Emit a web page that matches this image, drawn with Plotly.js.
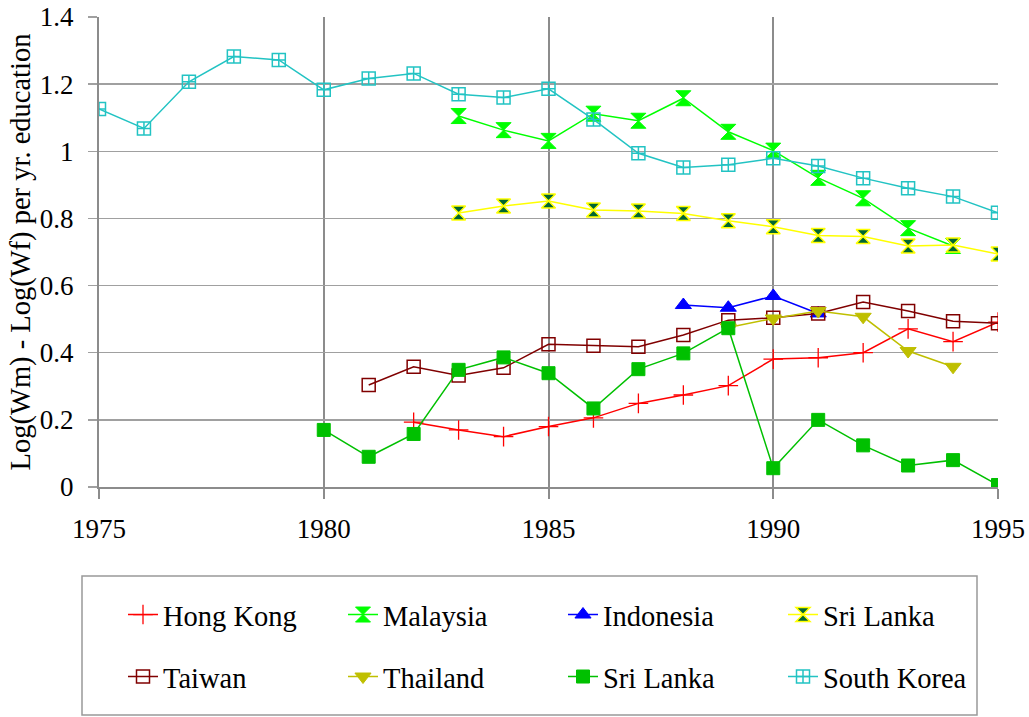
<!DOCTYPE html>
<html>
<head>
<meta charset="utf-8">
<script src="https://cdn.plot.ly/plotly-3.0.1.min.js"></script>
<style>html,body{margin:0;padding:0;background:#fff;}#chart{width:1029px;height:717px;}</style>
</head>
<body>
<div id="chart"></div>
<script>
// Data
const hongKongYears = [1982,1983,1984,1985,1986,1987,1988,1989,1990,1991,1992,1993,1994,1995];
const hongKongVals  = [0.193,0.170,0.150,0.180,0.206,0.249,0.274,0.302,0.381,0.385,0.400,0.471,0.433,0.491];

const malaysiaYears = [1983,1984,1985,1986,1987,1988,1989,1990,1991,1992,1993,1994];
const malaysiaVals  = [1.105,1.063,1.031,1.112,1.091,1.158,1.058,1.002,0.921,0.860,0.771,0.718];

const indonesiaYears = [1988,1989,1990,1991];
const indonesiaVals  = [0.542,0.534,0.569,0.517];

const sriLankaAYears = [1983,1984,1985,1986,1987,1988,1989,1990,1991,1992,1993,1994,1995];
const sriLankaAVals  = [0.816,0.837,0.852,0.825,0.822,0.815,0.793,0.775,0.749,0.746,0.718,0.721,0.694];

const taiwanYears = [1981,1982,1983,1984,1985,1986,1987,1988,1989,1990,1991,1992,1993,1994,1995];
const taiwanVals  = [0.304,0.358,0.332,0.355,0.425,0.421,0.418,0.453,0.497,0.504,0.517,0.551,0.524,0.494,0.488];

const thailandYears = [1989,1990,1991,1992,1993,1994];
const thailandVals  = [0.475,0.502,0.524,0.507,0.405,0.358];

const sriLankaBYears = [1980,1981,1982,1983,1984,1985,1986,1987,1988,1989,1990,1991,1992,1993,1994,1995];
const sriLankaBVals  = [0.170,0.090,0.158,0.349,0.386,0.339,0.234,0.351,0.398,0.473,0.056,0.200,0.124,0.064,0.080,0.006];

const southKoreaYears = [1975,1976,1977,1978,1979,1980,1981,1982,1983,1984,1985,1986,1987,1988,1989,1990,1991,1992,1993,1994,1995];
const southKoreaVals  = [1.126,1.068,1.207,1.282,1.272,1.183,1.217,1.232,1.170,1.160,1.186,1.095,0.994,0.952,0.960,0.979,0.956,0.920,0.890,0.865,0.817];

const xTickVals = [1975,1980,1985,1990,1995];
const yTickVals = [0,0.2,0.4,0.6,0.8,1,1.2,1.4];

const FONT = 'Liberation Serif';

function tr(name, x, y, color, symbol, size, extra, legend) {
  const m = Object.assign({symbol: symbol, size: size, color: color, line: {color: color, width: 1}}, extra || {});
  return {type: 'scatter', mode: 'lines+markers', name: name, x: x, y: y,
          line: {color: color, width: 1.5}, marker: m, legend: legend};
}

const traces = [
  tr('Hong Kong', hongKongYears, hongKongVals, '#FF0000', 'cross-thin', 14, {line: {color: '#FF0000', width: 1.3}}, 'legend'),
  tr('Malaysia', malaysiaYears, malaysiaVals, '#00FF00', 'hourglass', 15, null, 'legend'),
  tr('Indonesia', indonesiaYears, indonesiaVals, '#0000FF', 'triangle-up', 14, null, 'legend'),
  tr('Sri Lanka', sriLankaAYears, sriLankaAVals, '#FFFF00', 'hourglass', 14,
     {color: '#006633', line: {color: '#FFFF00', width: 1.5}}, 'legend'),
  tr('Taiwan', taiwanYears, taiwanVals, '#800000', 'square-open', 13, {line: {color: '#800000', width: 1.5}}, 'legend2'),
  tr('Thailand', thailandYears, thailandVals, '#BFBF00', 'triangle-down', 14, null, 'legend2'),
  tr('Sri Lanka', sriLankaBYears, sriLankaBVals, '#00C000', 'square', 13, null, 'legend2'),
  tr('South Korea', southKoreaYears, southKoreaVals, '#22C3C3', 'square-cross-open', 13, {line: {color: '#22C3C3', width: 1.5}}, 'legend2')
];

const plotH = 470; // 717 - 17 - 230
const plotW = 899;
function py(pix) { return (487 - pix) / plotH; }
function px(pix) { return (pix - 99) / plotW; }

const legendCommon = {
  orientation: 'h', entrywidth: 175, entrywidthmode: 'pixels',
  font: {family: FONT, size: 28.5, color: '#000'},
  bgcolor: 'rgba(0,0,0,0)', borderwidth: 0,
  xanchor: 'left', yanchor: 'middle', itemclick: false
};

const layout = {
  width: 1029, height: 717,
  margin: {l: 99, r: 31, t: 17, b: 230, pad: 0},
  paper_bgcolor: '#fff', plot_bgcolor: '#fff',
  font: {family: FONT, size: 26, color: '#000'},
  showlegend: true,
  xaxis: {
    range: [1975, 1995], tickvals: xTickVals, ticktext: xTickVals.map(String),
    showgrid: true, gridcolor: '#8c8c8c', gridwidth: 2,
    showline: true, linecolor: '#8c8c8c', linewidth: 2,
    ticks: 'outside', ticklen: 10, tickcolor: '#8c8c8c', tickwidth: 2,
    ticklabelstandoff: 7, zeroline: false,
    tickfont: {family: FONT, size: 27, color: '#000'}
  },
  yaxis: {
    range: [0, 1.4], tickvals: yTickVals, ticktext: yTickVals.map(String),
    showgrid: true, gridcolor: '#a0a0a0', gridwidth: 1.5,
    showline: true, linecolor: '#8c8c8c', linewidth: 2,
    ticks: 'outside', ticklen: 9, tickcolor: '#a0a0a0', tickwidth: 1.5,
    ticklabelstandoff: 9, zeroline: false,
    tickfont: {family: FONT, size: 27, color: '#000'},
    title: {text: 'Log(Wm) - Log(Wf) per yr. education', font: {family: FONT, size: 28.5, color: '#000'}, standoff: 1}
  },
  legend: Object.assign({}, legendCommon, {x: px(123), y: py(615)}),
  legend2: Object.assign({}, legendCommon, {x: px(123), y: py(677)}),
  shapes: [{
    type: 'rect', xref: 'paper', yref: 'paper',
    x0: px(82), x1: px(977), y0: py(715), y1: py(576),
    line: {color: '#999999', width: 1.5}, fillcolor: 'rgba(0,0,0,0)', layer: 'below'
  }]
};

Plotly.newPlot('chart', traces, layout, {displayModeBar: false, staticPlot: true});
</script>
</body>
</html>
